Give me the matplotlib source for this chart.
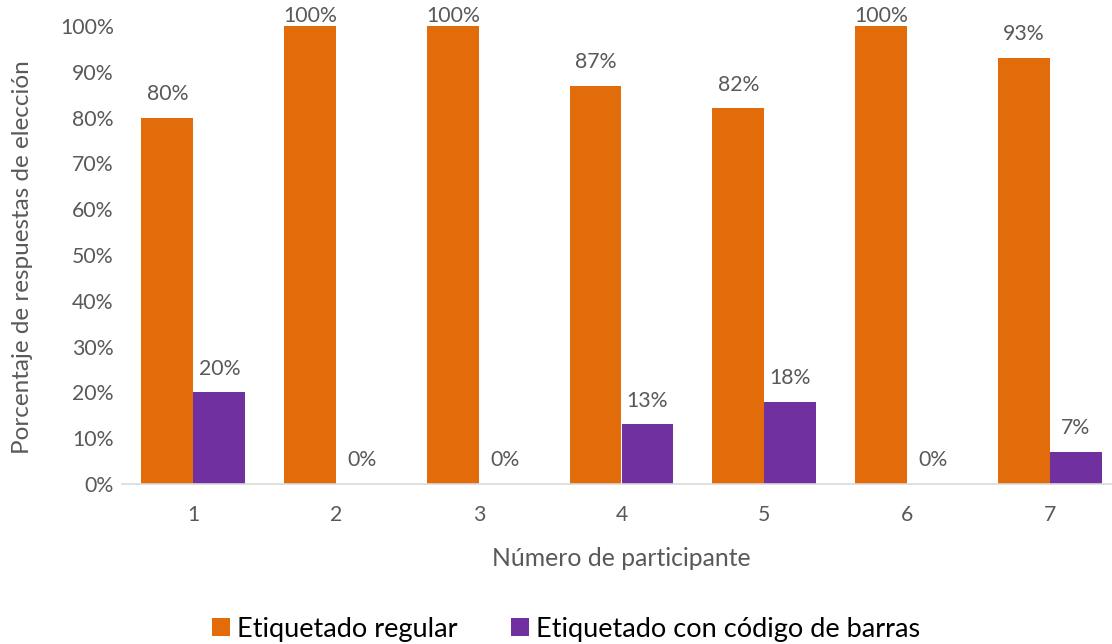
import matplotlib.pyplot as plt
import numpy as np

participantes = ['1', '2', '3', '4', '5', '6', '7']
regular       = [80, 100, 100, 87, 82, 100, 93]
codigo_barras = [20, 0, 0, 13, 18, 0, 7]
serie_nombres = ['Etiquetado regular', 'Etiquetado con código de barras']

plt.rcParams['font.family'] = ['Lato', 'DejaVu Sans']
gris  = '#595959'
naranja = '#E36C0A'
morado  = '#7030A0'

fig = plt.figure(figsize=(11.12, 6.44), dpi=100)
ax  = fig.add_axes([122 / 1112, 160 / 644, 999 / 1112, 458 / 644])

x = np.arange(len(participantes))
w = 0.364
b1 = ax.bar(x - w / 2, regular, w, color=naranja, label=serie_nombres[0])
b2 = ax.bar(x + w / 2, codigo_barras, w, color=morado, label=serie_nombres[1])

for bars, vals in [(b1, regular), (b2, codigo_barras)]:
    for bar, v in zip(bars, vals):
        # etiquetas de 100% quedan pegadas a la barra, como en Excel
        off = 0 if v == 100 else 10
        ax.annotate(f'{v}%', (bar.get_x() + bar.get_width() / 2, v),
                    xytext=(0, off), textcoords='offset points', ha='center', va='bottom',
                    fontsize=15.3, color=gris, annotation_clip=False)

ax.set_xlim(-0.5, len(participantes) - 0.5)
ax.set_ylim(0, 100)
ax.set_yticks(range(0, 101, 10))
ax.set_yticklabels([f'{t}%' for t in range(0, 101, 10)])
ax.set_xticks(x)
ax.set_xticklabels(participantes)
ax.tick_params(axis='both', length=0, labelsize=15.3, labelcolor=gris)
ax.tick_params(axis='y', pad=6)
ax.tick_params(axis='x', pad=15)

for s in ['top', 'right', 'left']:
    ax.spines[s].set_visible(False)
ax.spines['bottom'].set_color('#D9D9D9')
ax.spines['bottom'].set_linewidth(1.2)

ax.set_xlabel('Número de participante', fontsize=17.8, color=gris, labelpad=16)
fig.text(23 / 1112, 1 - 257 / 644, 'Porcentaje de respuestas de elección', rotation=90,
         ha='center', va='center', fontsize=17.5, color=gris)

fig.legend(loc='center', bbox_to_anchor=(566 / 1112, 1 - 629 / 644), ncol=2, frameon=False,
           fontsize=19.5, handlelength=0.67, handleheight=0.67, handletextpad=0.27, columnspacing=1.95)

fig.savefig('out.png', dpi=100)
